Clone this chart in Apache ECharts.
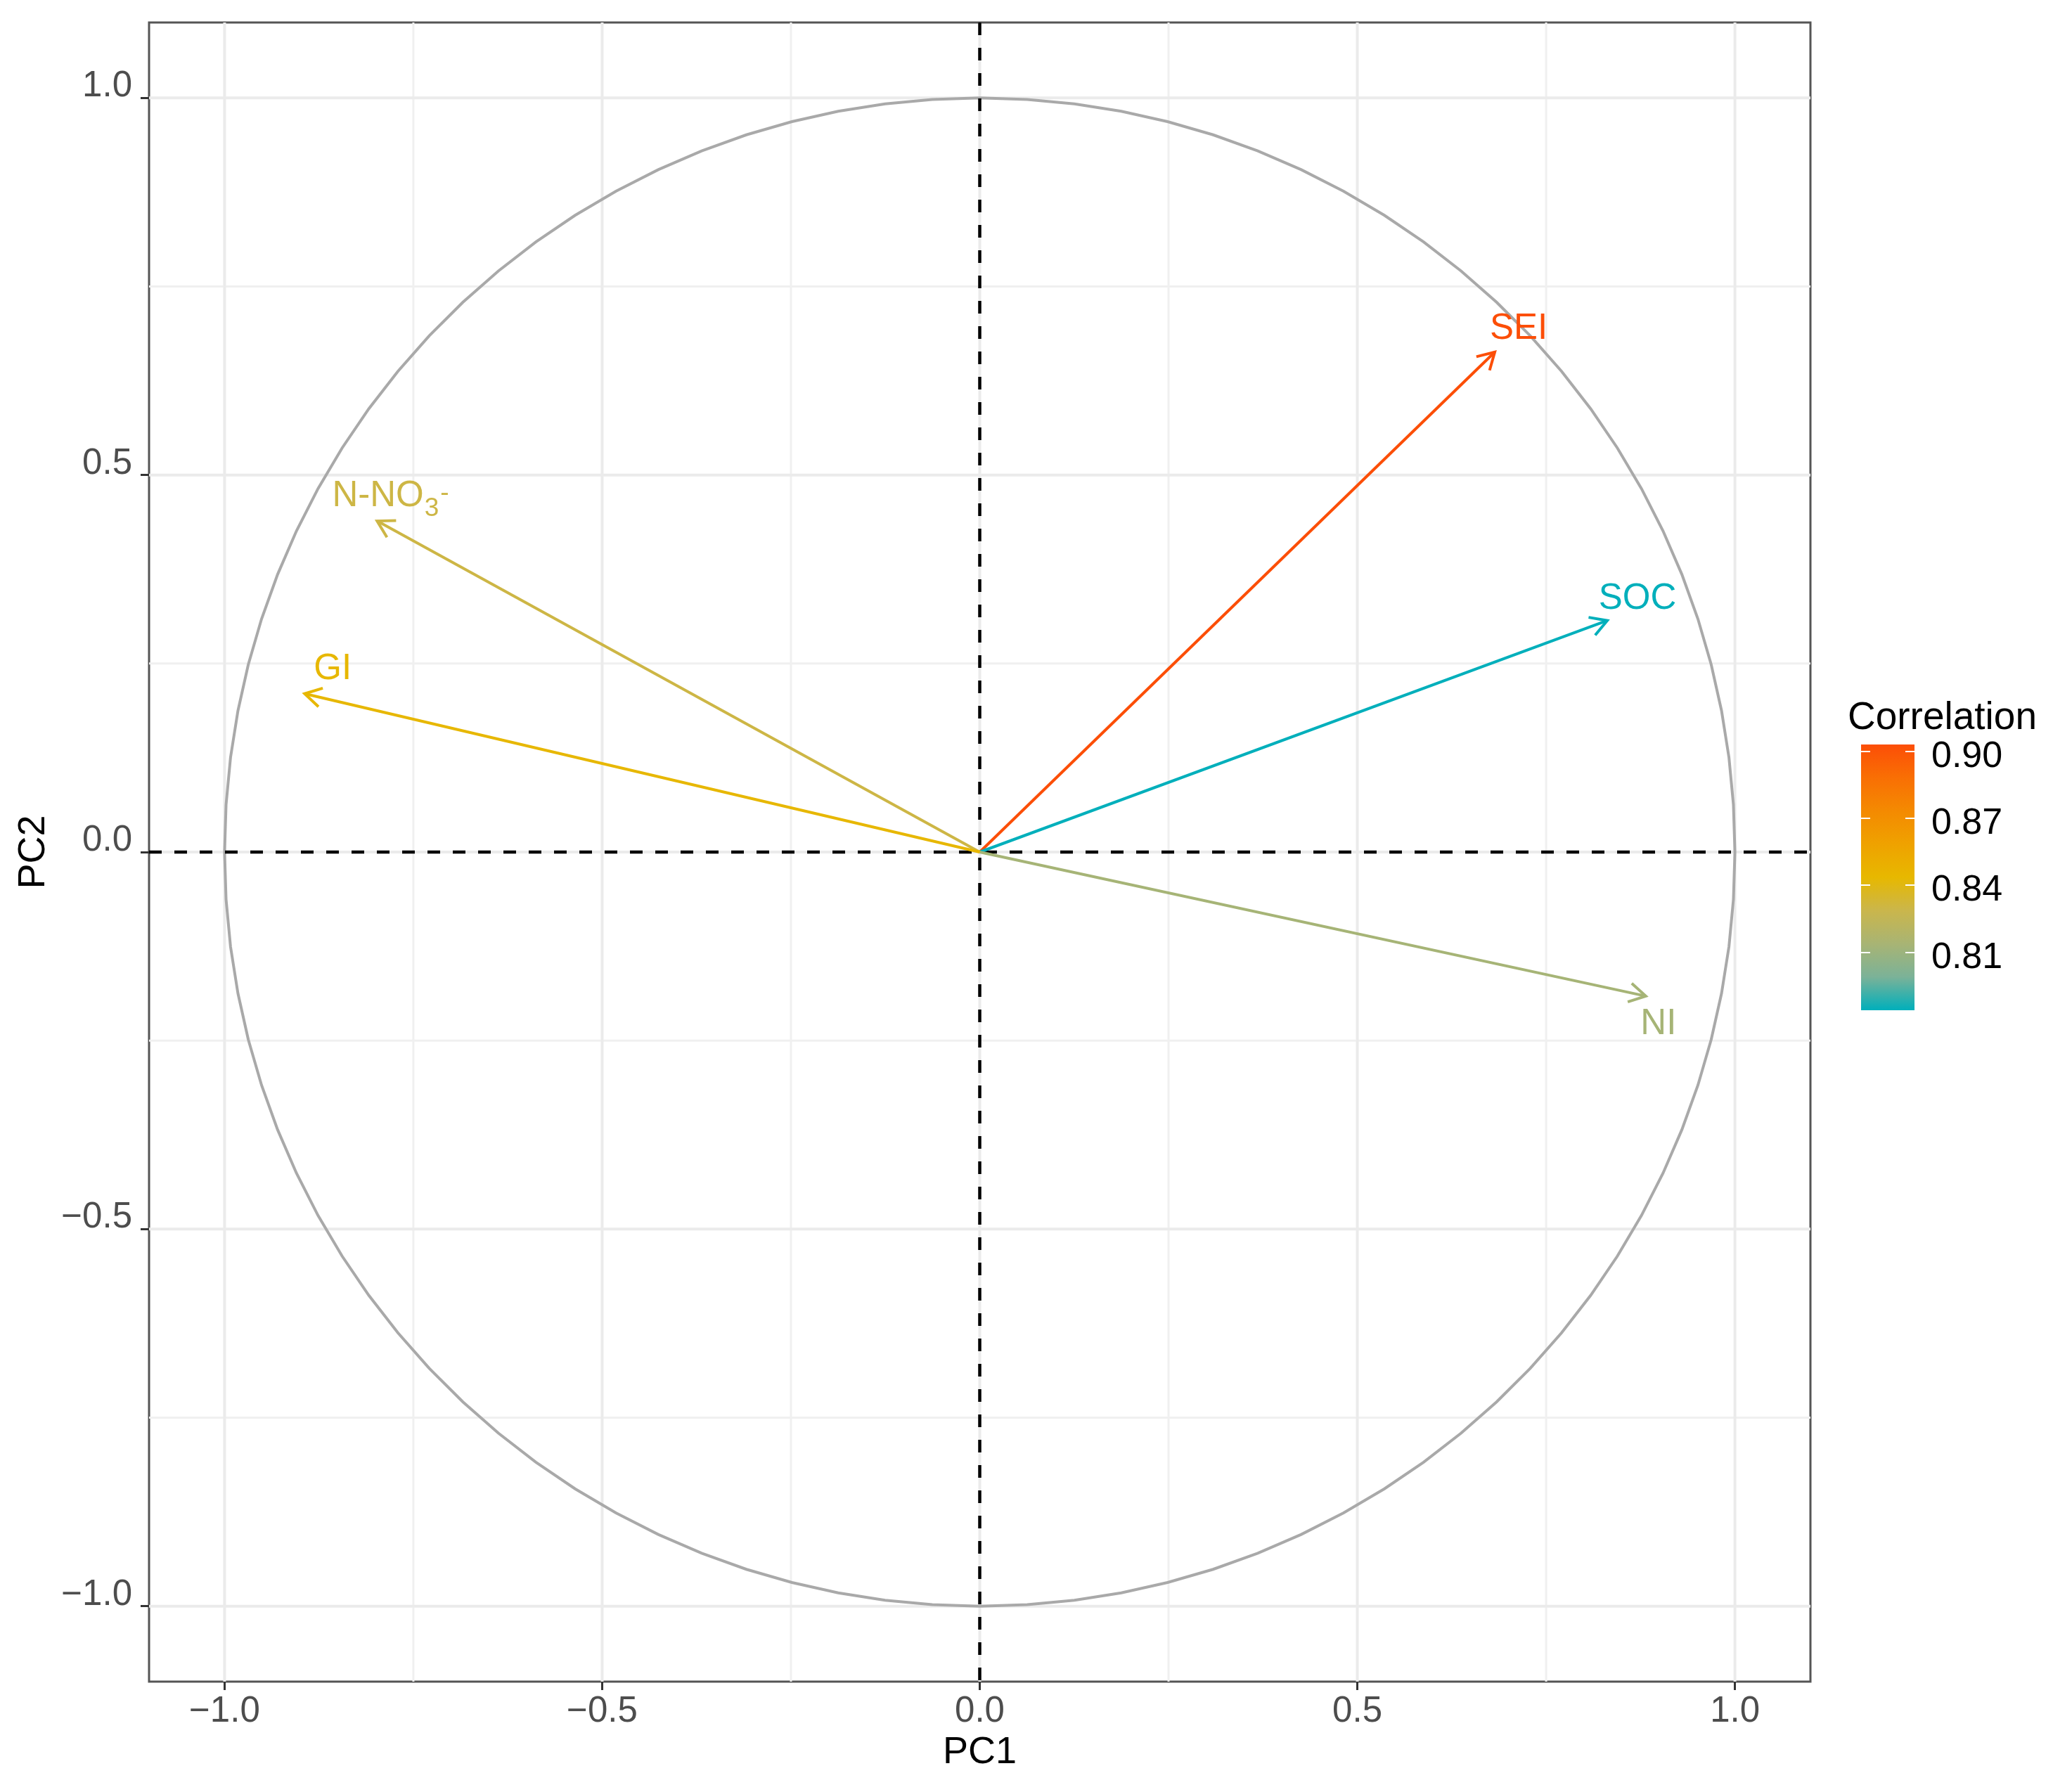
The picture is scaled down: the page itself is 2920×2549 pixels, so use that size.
<!DOCTYPE html>
<html>
<head>
<meta charset="utf-8">
<script src="https://cdn.jsdelivr.net/npm/echarts@6/dist/echarts.min.js"></script>
<style>
html,body{margin:0;padding:0;background:#ffffff;}
#chart{width:2920px;height:2549px;}
</style>
</head>
<body>
<div id="chart"></div>
<script>
// ---------------- data ----------------
const variables = ['SEI', 'SOC', 'NI', 'N-NO3-', 'GI'];
const pc1 = [0.682, 0.831, 0.882, -0.798, -0.894];
const pc2 = [0.663, 0.307, -0.191, 0.439, 0.210];
const correlation = [0.903, 0.784, 0.813, 0.830, 0.844];
const axisTicks = [-1.0, -0.5, 0.0, 0.5, 1.0];
const minorBreaks = [-0.75, -0.25, 0.25, 0.75];
const colorbarTicks = [0.81, 0.84, 0.87, 0.90];
const gradientColors = ['#00AFBB', '#7BB298', '#A8B474', '#CAB64C', '#E7B800', '#EFA200', '#F48A01', '#F96F04', '#FC4E07'];
const axisRange = [-1.1, 1.1];

// ---------------- styling ----------------
const FONT = '"Liberation Sans", Arial, Helvetica, sans-serif';
const labelOffsets = { 'SEI': [34, -33], 'SOC': [43, -31], 'NI': [18, 40], 'N-NO3-': [-64, -35], 'GI': [40, -35] };
const cMin = Math.min.apply(null, correlation);
const cMax = Math.max.apply(null, correlation);

function fmtAxis(v) {
  const s = Math.abs(v).toFixed(1);
  return v < 0 ? '\u2212' + s : s;
}

const chart = echarts.init(document.getElementById('chart'), null, { renderer: 'canvas' });

function gridRender(width, color) {
  return function (params, api) {
    const v = api.value(0);
    const cs = params.coordSys;
    const px = api.coord([v, 0]);
    const py = api.coord([0, v]);
    return {
      type: 'group',
      children: [
        { type: 'line', shape: { x1: px[0], y1: cs.y, x2: px[0], y2: cs.y + cs.height }, style: { stroke: color, lineWidth: width } },
        { type: 'line', shape: { x1: cs.x, y1: py[1], x2: cs.x + cs.width, y2: py[1] }, style: { stroke: color, lineWidth: width } }
      ]
    };
  };
}

function circleRender(params, api) {
  const cx = api.value(0), cy = api.value(1), r = api.value(2);
  const pts = [];
  const n = 100;
  for (let k = 0; k < n; k++) {
    const t = 2 * Math.PI * k / n;
    pts.push(api.coord([cx + r * Math.cos(t), cy + r * Math.sin(t)]));
  }
  return { type: 'polygon', shape: { points: pts }, style: { fill: 'none', stroke: '#A9A9A9', lineWidth: 4 } };
}

function zeroRender(params, api) {
  const v = api.value(0);
  const cs = params.coordSys;
  const px = api.coord([v, v]);
  const st = { stroke: '#000000', lineWidth: 4.5, lineDash: [18, 18] };
  return {
    type: 'group',
    children: [
      { type: 'line', shape: { x1: px[0], y1: cs.y, x2: px[0], y2: cs.y + cs.height }, style: st },
      { type: 'line', shape: { x1: cs.x, y1: px[1], x2: cs.x + cs.width, y2: px[1] }, style: st }
    ]
  };
}

function arrowRender(params, api) {
  const o = api.coord([0, 0]);
  const t = api.coord([api.value(0), api.value(1)]);
  const color = api.visual('color');
  const ang = Math.atan2(t[1] - o[1], t[0] - o[0]);
  const L = 27, a = Math.PI / 6;
  const w1 = [t[0] - L * Math.cos(ang - a), t[1] - L * Math.sin(ang - a)];
  const w2 = [t[0] - L * Math.cos(ang + a), t[1] - L * Math.sin(ang + a)];
  const name = variables[params.dataIndex];
  const off = labelOffsets[name];
  let textEl;
  if (name === 'N-NO3-') {
    textEl = {
      type: 'text', x: t[0] + off[0], y: t[1] + off[1],
      style: {
        text: '{m|N-NO}{s|3}{p|-}', align: 'left', verticalAlign: 'middle', fill: color,
        fontFamily: FONT, fontSize: 51,
        rich: {
          m: { fontSize: 51, fontFamily: FONT, fill: color },
          s: { fontSize: 37, fontFamily: FONT, fill: color, padding: [36, 0, 0, 1] },
          p: { fontSize: 37, fontFamily: FONT, fill: color, padding: [0, 0, 8, 2] }
        }
      }
    };
  } else {
    textEl = {
      type: 'text', x: t[0] + off[0], y: t[1] + off[1],
      style: { text: name, align: 'center', verticalAlign: 'middle', fill: color, fontFamily: FONT, fontSize: 51 }
    };
  }
  return {
    type: 'group',
    children: [
      { type: 'line', shape: { x1: o[0], y1: o[1], x2: t[0], y2: t[1] }, style: { stroke: color, lineWidth: 4 } },
      { type: 'polyline', shape: { points: [w1, t, w2] }, style: { stroke: color, lineWidth: 4, fill: 'none', lineJoin: 'miter' } },
      textEl
    ]
  };
}

function colorbarRender(params, api) {
  const p1 = api.coord([api.value(0), api.value(3)]);
  const p2 = api.coord([api.value(2), api.value(1)]);
  const stops = gradientColors.map(function (c, i) { return { offset: i / (gradientColors.length - 1), color: c }; });
  return {
    type: 'rect',
    shape: { x: p1[0], y: p1[1], width: p2[0] - p1[0], height: p2[1] - p1[1] },
    style: { fill: new echarts.graphic.LinearGradient(0, 1, 0, 0, stops) }
  };
}

const option = {
  animation: false,
  backgroundColor: '#ffffff',
  textStyle: { fontFamily: FONT },
  title: {
    text: 'Correlation', left: 2623, top: 989,
    textStyle: { fontSize: 55, fontWeight: 'normal', color: '#000000', fontFamily: FONT, lineHeight: 56 }
  },
  grid: [
    { left: 212, top: 32, width: 2363, height: 2360, show: true, borderColor: '#555555', borderWidth: 3, backgroundColor: '#ffffff', containLabel: false },
    { left: 2647, top: 1059, width: 76, height: 378, show: false }
  ],
  xAxis: [
    {
      type: 'value', gridIndex: 0, min: axisRange[0], max: axisRange[1],
      axisLine: { show: false, onZero: false },
      splitLine: { show: false },
      axisTick: { show: true, customValues: axisTicks, length: 12, lineStyle: { color: '#333333', width: 3 } },
      axisLabel: { customValues: axisTicks, formatter: fmtAxis, fontSize: 51, lineHeight: 51, color: '#4D4D4D', margin: 17, fontFamily: FONT },
      name: 'PC1', nameLocation: 'middle', nameGap: 101,
      nameTextStyle: { fontSize: 54, color: '#000000', verticalAlign: 'middle', fontFamily: FONT }
    },
    { type: 'value', gridIndex: 1, min: 0, max: 1, show: false }
  ],
  yAxis: [
    {
      type: 'value', gridIndex: 0, min: axisRange[0], max: axisRange[1],
      axisLine: { show: false, onZero: false },
      splitLine: { show: false },
      axisTick: { show: true, customValues: axisTicks, length: 12, lineStyle: { color: '#333333', width: 3 } },
      axisLabel: { customValues: axisTicks, formatter: fmtAxis, fontSize: 51, lineHeight: 32, verticalAlign: 'bottom', color: '#4D4D4D', margin: 24, fontFamily: FONT },
      name: 'PC2', nameLocation: 'middle', nameGap: 164,
      nameTextStyle: { fontSize: 54, color: '#000000', verticalAlign: 'middle', fontFamily: FONT }
    },
    {
      type: 'value', gridIndex: 1, min: cMin, max: cMax, position: 'left', z: 10,
      axisLine: { show: false }, splitLine: { show: false },
      axisTick: { show: true, inside: true, customValues: colorbarTicks, length: 13, lineStyle: { color: '#ffffff', width: 2 } },
      axisLabel: { show: false }
    },
    {
      type: 'value', gridIndex: 1, min: cMin, max: cMax, position: 'right', z: 10,
      axisLine: { show: false }, splitLine: { show: false },
      axisTick: { show: true, inside: true, customValues: colorbarTicks, length: 13, lineStyle: { color: '#ffffff', width: 2 } },
      axisLabel: { show: true, customValues: colorbarTicks, formatter: function (v) { return v.toFixed(2); }, fontSize: 52, lineHeight: 16, verticalAlign: 'top', color: '#000000', margin: 24, fontFamily: FONT }
    }
  ],
  visualMap: [{
    type: 'continuous', show: false, min: cMin, max: cMax, dimension: 2, seriesIndex: 3,
    inRange: { color: gradientColors }
  }],
  series: [
    { type: 'custom', name: 'minorGrid', xAxisIndex: 0, yAxisIndex: 0, z: 1, silent: true, renderItem: gridRender(3, '#F0F0F0'),
      data: minorBreaks.map(function (v) { return [v, v]; }), encode: { x: 0, y: 1 } },
    { type: 'custom', name: 'majorGrid', xAxisIndex: 0, yAxisIndex: 0, z: 1, silent: true, renderItem: gridRender(4, '#EBEBEB'),
      data: axisTicks.map(function (v) { return [v, v]; }), encode: { x: 0, y: 1 } },
    { type: 'custom', name: 'circle', xAxisIndex: 0, yAxisIndex: 0, z: 2, silent: true, renderItem: circleRender,
      data: [[0, 0, 1]], encode: { x: 0, y: 1 } },
    { type: 'custom', name: 'variables', xAxisIndex: 0, yAxisIndex: 0, z: 4, renderItem: arrowRender,
      data: variables.map(function (n, i) { return [pc1[i], pc2[i], correlation[i]]; }), encode: { x: 0, y: 1 } },
    { type: 'custom', name: 'zeroLines', xAxisIndex: 0, yAxisIndex: 0, z: 3, silent: true, renderItem: zeroRender,
      data: [[0, 0]], encode: { x: 0, y: 1 } },
    { type: 'custom', name: 'colorbar', xAxisIndex: 1, yAxisIndex: 1, z: 2, silent: true, renderItem: colorbarRender,
      data: [[0, cMin, 1, cMax]], encode: { x: [0, 2], y: [1, 3] } }
  ]
};
chart.setOption(option);
</script>
</body>
</html>
